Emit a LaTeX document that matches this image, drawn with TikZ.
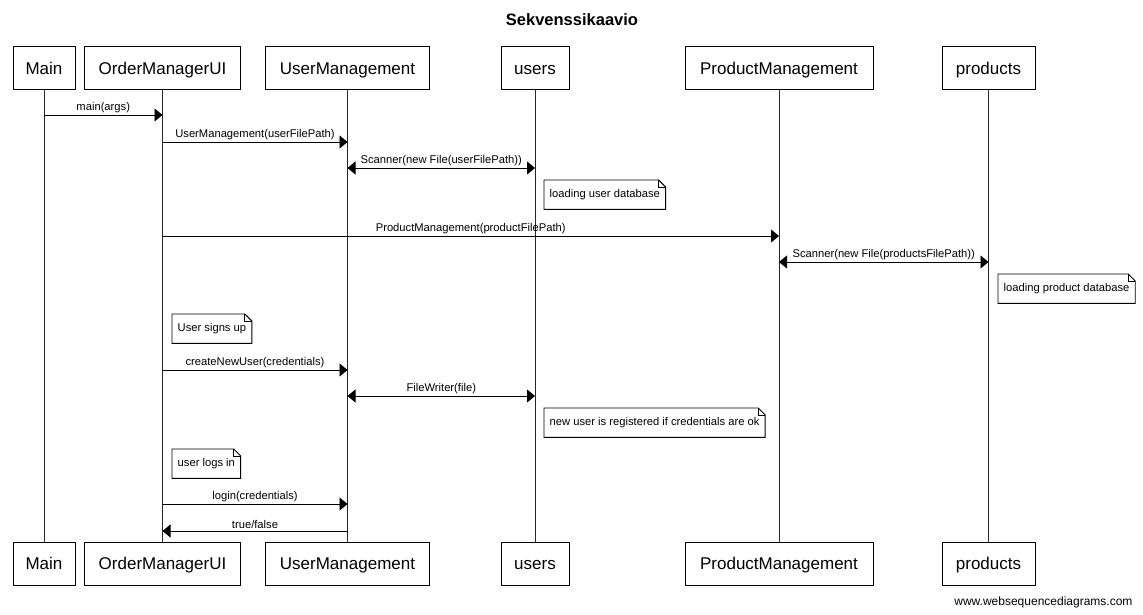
\documentclass[tikz,border=0pt]{standalone}
\usepackage{fontspec}
\setmainfont{Liberation Sans}
\usetikzlibrary{arrows.meta,calc}
\newcommand\mknote[1]{%
  \draw[notel] (#1.north west) -- ([xshift=-7pt]#1.north east) -- ([yshift=-7pt]#1.north east) -- (#1.south east) -- (#1.south west) -- cycle;
  \draw[notel] ([xshift=-7pt]#1.north east) -- ([xshift=-7pt,yshift=-7pt]#1.north east) -- ([yshift=-7pt]#1.north east);}
\begin{document}
\begin{tikzpicture}[x=1pt,y=-1pt,
  every node/.style={font=\fontsize{11.2}{13}\selectfont},
  actor/.style={draw, line width=1pt, fill=white, minimum height=43pt, inner sep=0pt,
    text height=12.4pt, text depth=0pt, font=\fontsize{17}{20}\selectfont},
  life/.style={line width=0.9pt, draw=black!85},
  msg/.style={line width=0.9pt, -{Triangle[length=8pt,width=13pt]}},
  dmsg/.style={line width=0.9pt, {Triangle[length=8pt,width=13pt]}-{Triangle[length=8pt,width=13pt]}},
  lbl/.style={above, inner sep=1.5pt, midway},
  note/.style={anchor=north west, inner xsep=5.5pt, inner ysep=0pt, minimum height=29pt},
  notel/.style={line width=0.9pt},
]
\useasboundingbox (0,0) rectangle (1143,615);
\node[font=\bfseries\fontsize{16.5}{19}\selectfont] (title) at (572,19.5) {Sekvenssikaavio};
% actors top
\node[actor, minimum width=62pt]  (mainT) at (44,68.5) {Main};
\node[actor, minimum width=156pt] (omT)   at (162.5,68.5) {OrderManagerUI};
\node[actor, minimum width=164pt] (umT)   at (347.5,68.5) {UserManagement};
\node[actor, minimum width=68pt]  (usT)   at (535,68.5) {users};
\node[actor, minimum width=188pt] (pmT)   at (779,68.5) {ProductManagement};
\node[actor, minimum width=93pt]  (prT)   at (988.5,68.5) {products};
% actors bottom
\node[actor, minimum width=62pt]  (mainB) at (44,563.5) {Main};
\node[actor, minimum width=156pt] (omB)   at (162.5,563.5) {OrderManagerUI};
\node[actor, minimum width=164pt] (umB)   at (347.5,563.5) {UserManagement};
\node[actor, minimum width=68pt]  (usB)   at (535,563.5) {users};
\node[actor, minimum width=188pt] (pmB)   at (779,563.5) {ProductManagement};
\node[actor, minimum width=93pt]  (prB)   at (988.5,563.5) {products};
% lifelines
\draw[life] (mainT) -- (mainB);
\draw[life] (omT) -- (omB);
\draw[life] (umT) -- (umB);
\draw[life] (usT) -- (usB);
\draw[life] (pmT) -- (pmB);
\draw[life] (prT) -- (prB);
% rows
\coordinate (r1) at (0,115);
\coordinate (r2) at (0,142);
\coordinate (r3) at (0,168);
\coordinate (r4) at (0,236);
\coordinate (r5) at (0,262);
\coordinate (r6) at (0,370);
\coordinate (r7) at (0,396);
\coordinate (r8) at (0,504);
\coordinate (r9) at (0,531);
% messages
\draw[msg]  (mainT |- r1) -- node[lbl]{main(args)} (omT |- r1);
\draw[msg]  (omT |- r2) -- node[lbl]{UserManagement(userFilePath)} (umT |- r2);
\draw[dmsg] (umT |- r3) -- node[lbl]{Scanner(new File(userFilePath))} (usT |- r3);
\draw[msg]  (omT |- r4) -- node[lbl]{ProductManagement(productFilePath)} (pmT |- r4);
\draw[dmsg] (pmT |- r5) -- node[lbl]{Scanner(new File(productsFilePath))} (prT |- r5);
\draw[msg]  (omT |- r6) -- node[lbl]{createNewUser(credentials)} (umT |- r6);
\draw[dmsg] (umT |- r7) -- node[lbl]{FileWriter(file)} (usT |- r7);
\draw[msg]  (omT |- r8) -- node[lbl]{login(credentials)} (umT |- r8);
\draw[msg]  (umT |- r9) -- node[lbl]{true/false} (omT |- r9);
% notes
\node[note] (n1) at (544,180) {loading user database};
\node[note] (n2) at (998,274) {loading product database};
\node[note] (n3) at (172,314) {User signs up};
\node[note] (n4) at (544,408) {new user is registered if credentials are ok};
\node[note] (n5) at (172,449) {user logs in};
\mknote{n1}\mknote{n2}\mknote{n3}\mknote{n4}\mknote{n5}
% footer
\node[anchor=east, font=\fontsize{12}{14}\selectfont] (foot) at (1136,602) {www.websequencediagrams.com};
\end{tikzpicture}
\end{document}
